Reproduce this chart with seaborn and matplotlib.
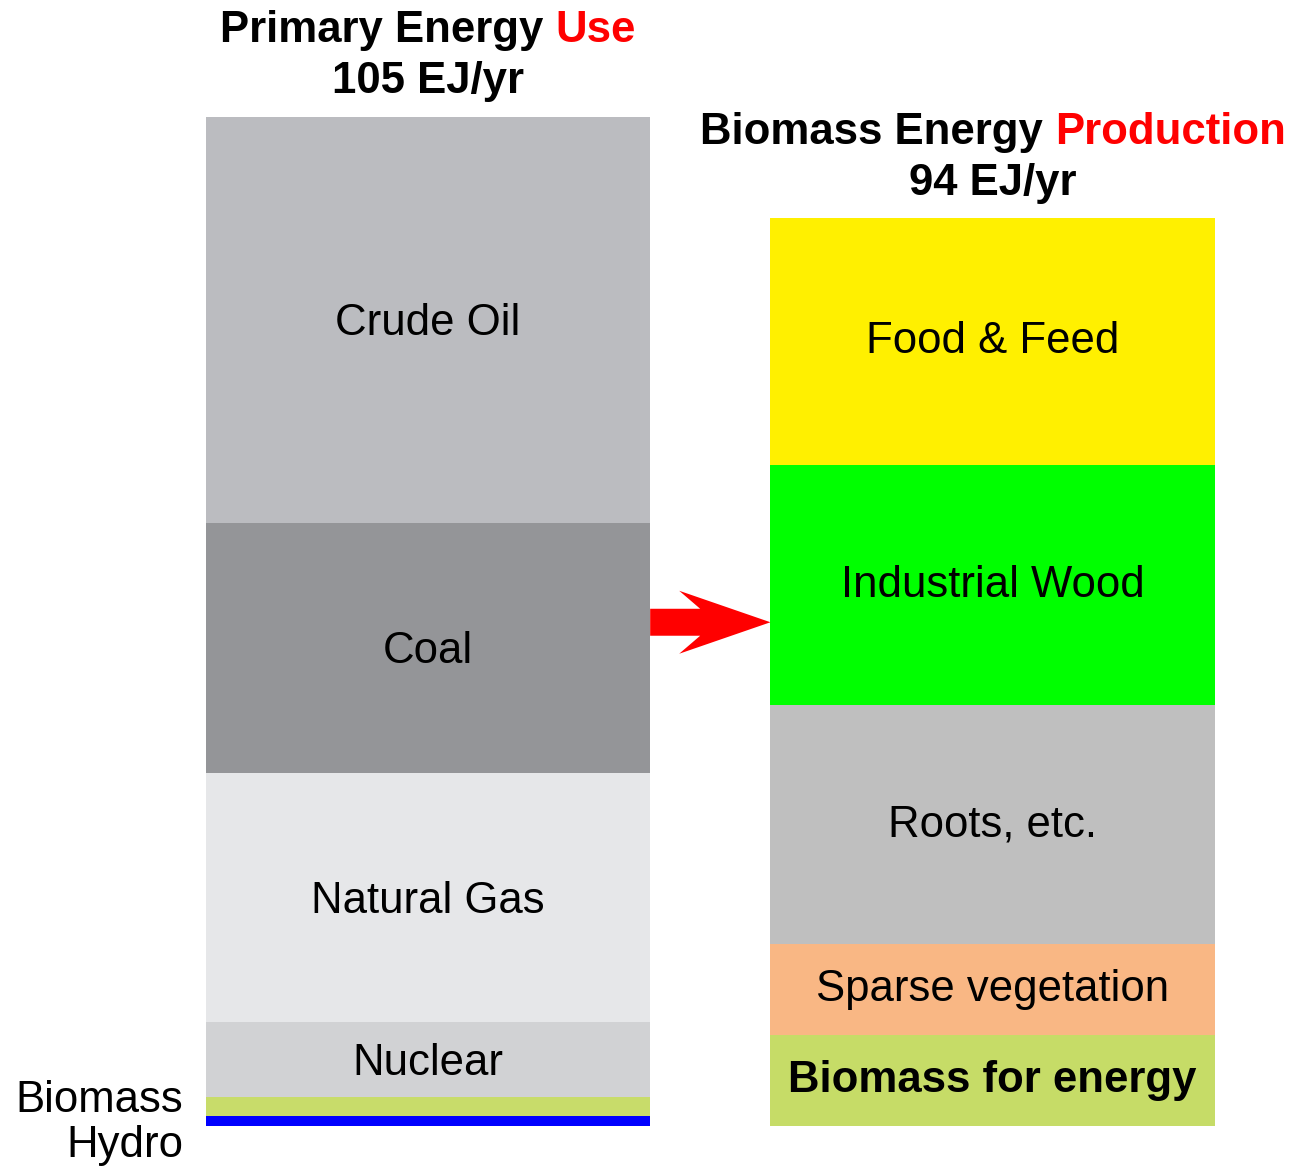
import numpy as np
import seaborn as sns
import matplotlib.pyplot as plt
from matplotlib.patches import Polygon

# data (EJ/yr), listed bottom to top
use_labels = ["Hydro", "Biomass", "Nuclear", "Natural Gas", "Coal", "Crude Oil"]
use_values = [1.0, 2.0, 7.8, 25.9, 25.9, 42.2]
use_colors = ["#0000FF", "#C8DC6A", "#D1D2D4", "#E6E7E9", "#949598", "#BBBCC0"]

prod_labels = ["Biomass for energy", "Sparse vegetation", "Roots, etc.",
               "Industrial Wood", "Food & Feed"]
prod_values = [9.4, 9.5, 24.8, 24.9, 25.7]
prod_colors = ["#C6DC67", "#F9B784", "#BFBFBF", "#00FF00", "#FFF000"]

bars = ["Primary Energy Use", "Biomass Energy Production"]
titles = [("Primary Energy ", "Use", "105 EJ/yr"),
          ("Biomass Energy ", "Production", "94 EJ/yr")]

sns.set_theme(style="white")
plt.rcParams['font.family'] = ['Liberation Sans', 'DejaVu Sans']
plt.rcParams['text.color'] = 'black'

FS = 31.5
W = 0.787

fig = plt.figure(figsize=(12.93, 11.66), dpi=100)
ax = fig.add_axes([0, 0, 1, 1])

# stacked bars: draw cumulative totals largest first so smaller ones sit on top
for i, (vals, cols) in enumerate([(use_values, use_colors), (prod_values, prod_colors)]):
    cum = np.cumsum(vals)
    for c, col in zip(cum[::-1], cols[::-1]):
        sns.barplot(x=[bars[i]], y=[c], order=bars, color=col, saturation=1,
                    width=W, linewidth=0, ax=ax)

ax.set_xlim(-0.758, 1.532)
ax.set_ylim(-4.15, 116.9)
ax.axis("off")

# segment labels
for i, (labels, vals) in enumerate([(use_labels, use_values), (prod_labels, prod_values)]):
    cum = np.cumsum(vals)
    bottoms = cum - np.array(vals)
    shift = -0.4 if i == 0 else 0
    for lab, v, b in zip(labels, vals, bottoms):
        if v < 5:
            continue
        weight = "bold" if lab == "Biomass for energy" else "normal"
        ax.text(i, b + v / 2 + shift, lab, ha="center", va="center", fontsize=FS,
                fontweight=weight, color="black")

# small segments labelled outside the left bar
ax.text(-W / 2 - 0.04, 2.6, "Biomass", ha="right", va="center", fontsize=FS,
        color="black")
ax.text(-W / 2 - 0.04, -2.0, "Hydro", ha="right", va="center", fontsize=FS,
        color="black")

# titles with a red keyword
fig.canvas.draw()
r = fig.canvas.get_renderer()
totals = [sum(use_values), sum(prod_values)]
for i, (black, red, sub) in enumerate(titles):
    y2 = totals[i] + 2.4
    y1 = y2 + 5.3
    ax.text(i, y2, sub, ha="center", va="baseline", fontsize=FS, fontweight="bold",
            color="black")
    tmp = ax.text(i, y1, black + red, ha="center", va="baseline", fontsize=FS,
                  fontweight="bold")
    bb = tmp.get_window_extent(r)
    tmp.remove()
    inv = ax.transData.inverted()
    xl = inv.transform((bb.x0, 0))[0]
    xr = inv.transform((bb.x1, 0))[0]
    ax.text(xl, y1, black.strip(), ha="left", va="baseline", fontsize=FS,
            fontweight="bold", color="black")
    ax.text(xr, y1, red, ha="right", va="baseline", fontsize=FS,
            fontweight="bold", color="red")

# red arrow between the bars
px = 1 / 564.5
x0 = W / 2
x1 = 1 - W / 2
yc = 52.3
sh = 1.4
hh = 3.27
arrow = Polygon([(x0, yc + sh), (x0 + 50 * px, yc + sh), (x0 + 29 * px, yc + hh),
                 (x1, yc), (x0 + 29 * px, yc - hh), (x0 + 50 * px, yc - sh),
                 (x0, yc - sh)], closed=True, facecolor="red", edgecolor="none")
ax.add_patch(arrow)

fig.savefig("out.png", dpi=100, facecolor="white")
